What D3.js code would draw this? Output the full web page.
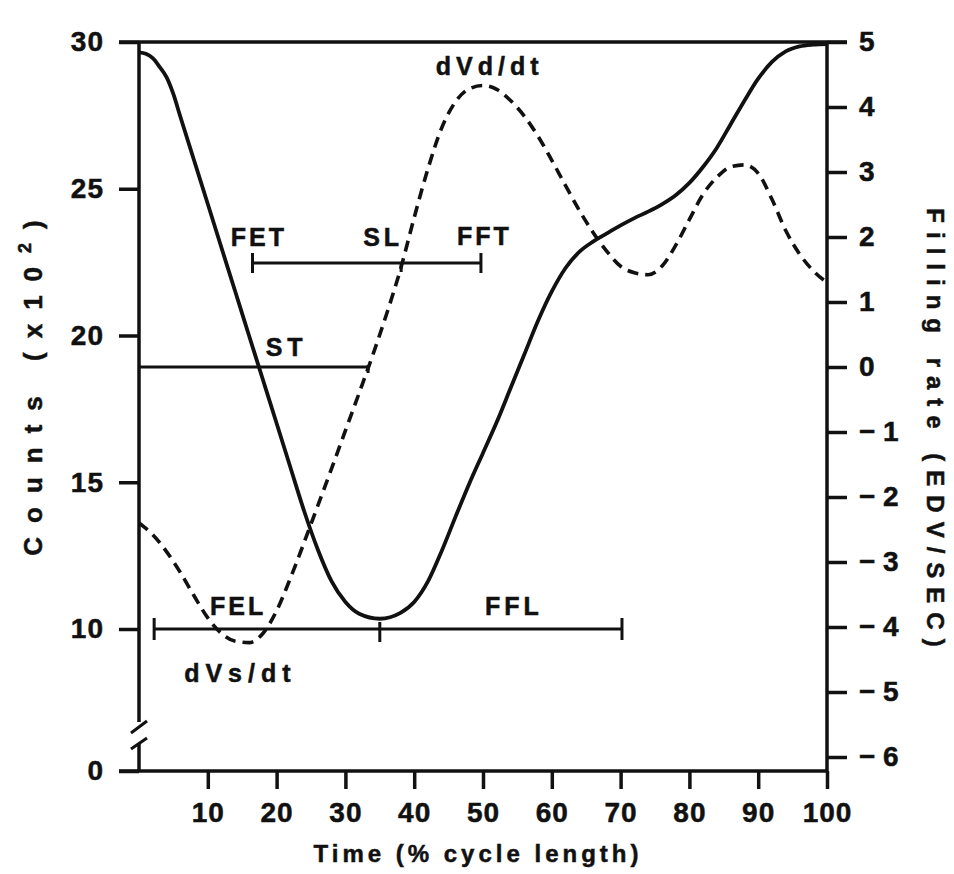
<!DOCTYPE html>
<html><head><meta charset="utf-8">
<script src="https://cdn.jsdelivr.net/npm/d3@7"></script>
<style>
html,body{margin:0;padding:0;background:#fff;}
svg{display:block;}
text{font-family:"Liberation Sans",Arial,Helvetica,sans-serif;font-weight:bold;fill:#111;stroke:#111;stroke-width:0.5px;}
</style></head><body>
<svg id="chart" width="954" height="874"></svg>
<script>
// ---- data ----
const countsTime   = [0, 1, 2, 3, 4, 5, 6, 8, 10, 12, 14, 16, 18, 20, 22, 24, 26, 28, 30, 32, 35, 38, 40, 42, 44, 46, 48, 50, 52, 54, 56, 58, 60, 62, 64, 66, 68, 70, 72, 74, 76, 78, 80, 82, 84, 86, 88, 90, 92, 94, 96, 98, 100];
const countsValues = [29.65, 29.6, 29.45, 29.15, 28.8, 28.22, 27.46, 25.97, 24.48, 22.98, 21.49, 19.99, 18.5, 17.01, 15.51, 14.02, 12.7, 11.62, 10.92, 10.52, 10.35, 10.55, 10.92, 11.62, 12.66, 13.82, 14.95, 16.0, 17.05, 18.2, 19.35, 20.5, 21.5, 22.3, 22.85, 23.2, 23.48, 23.75, 24.0, 24.22, 24.47, 24.78, 25.2, 25.75, 26.4, 27.2, 28.0, 28.75, 29.32, 29.68, 29.85, 29.91, 29.93];

const rateTime   = [0, 2, 4, 6, 8, 10, 12, 14, 16, 18, 20, 22, 24, 26, 28, 30, 32, 34, 36, 38, 40, 42, 44, 46, 48, 50, 52, 54, 56, 58, 60, 62, 64, 66, 68, 70, 72, 74, 76, 78, 80, 82, 84, 86, 88, 90, 92, 94, 96, 98, 100];
const rateValues = [-2.40, -2.58, -2.84, -3.16, -3.52, -3.86, -4.10, -4.22, -4.24, -4.10, -3.75, -3.25, -2.70, -2.13, -1.56, -0.98, -0.40, 0.19, 0.82, 1.50, 2.30, 3.05, 3.68, 4.08, 4.28, 4.33, 4.27, 4.10, 3.86, 3.55, 3.18, 2.79, 2.41, 2.07, 1.78, 1.55, 1.45, 1.42, 1.55, 1.87, 2.27, 2.66, 2.92, 3.08, 3.11, 2.98, 2.58, 2.10, 1.74, 1.48, 1.30];

const xTicks     = [10, 20, 30, 40, 50, 60, 70, 80, 90, 100];
const leftTicks  = [0, 10, 15, 20, 25, 30];
const rightTicks = [5, 4, 3, 2, 1, 0, -1, -2, -3, -4, -5, -6];

// interval brackets (time %, and level)
const fetTimes = [16.5, 38.1, 49.7]; const fetRate = 1.6;     // FET | SL | FFT
const stTimes  = [0, 33.3];          const stRate  = 0;       // ST
const felTimes = [2.2, 35.0, 70.2];  const felCount = 10;     // FEL | FFL

// ---- scales ----
const svg = d3.select("#chart");
const x  = d3.scaleLinear().domain([0, 100]).range([139, 827]);
const yL = d3.scaleLinear().domain([0, 10, 30]).range([771, 629, 42]);   // broken axis
const yR = d3.scaleLinear().domain([-6, 5]).range([757, 42]);

const ink = "#111";
const g = svg.append("g");

function seg(x1, y1, x2, y2, w) {
  g.append("line").attr("x1", x1).attr("y1", y1).attr("x2", x2).attr("y2", y2)
    .attr("stroke", ink).attr("stroke-width", w || 3.5);
}

// ---- frame ----
const ax0 = x(0), ax1 = x(100), yTop = yL(30), yBot = yL(0);
seg(ax0 - 20, yTop, ax1 + 20, yTop);          // top line (30 & 5 ticks)
seg(ax1, yTop, ax1, yBot);                     // right axis
seg(ax0 - 20, yBot, ax1, yBot);                // bottom axis
// left axis with break
seg(ax0, yTop, ax0, yBot - 49);
seg(ax0, yBot - 27, ax0, yBot);
seg(ax0 - 8, yBot - 38, ax0 + 8, yBot - 50, 3);
seg(ax0 - 8, yBot - 22, ax0 + 8, yBot - 33, 3);

// ---- axes (ticks + labels) ----
function styleAxis(sel) {
  sel.select(".domain").remove();
  sel.selectAll(".tick line").attr("stroke", ink).attr("stroke-width", 3.5);
  sel.selectAll(".tick text").attr("fill", ink).style("font-size", "28px").style("letter-spacing", "1px");
  sel.attr("font-size", null).attr("font-family", null);
}
svg.append("g").attr("transform", `translate(0,${yBot})`)
  .call(d3.axisBottom(x).tickValues(xTicks).tickSize(18).tickPadding(13)).call(styleAxis);
svg.append("g").attr("transform", `translate(${ax0},0)`)
  .call(d3.axisLeft(yL).tickValues(leftTicks).tickSize(20).tickPadding(15)).call(styleAxis);
svg.append("g").attr("transform", `translate(${ax1},0)`)
  .call(d3.axisRight(yR).tickValues(rightTicks).tickSize(20).tickPadding(12)
    .tickFormat(d => d < 0 ? "\u2212\u2009" + (-d) : String(d))).call(styleAxis);

// ---- curves ----
const countsData = countsTime.map((t, i) => [t, countsValues[i]]);
const rateData = rateTime.map((t, i) => [t, rateValues[i]]);
const curve = d3.curveMonotoneX;
g.append("path").datum(countsData)
  .attr("d", d3.line().x(d => x(d[0])).y(d => yL(d[1])).curve(curve))
  .attr("fill", "none").attr("stroke", ink).attr("stroke-width", 3.8);
g.append("path").datum(rateData)
  .attr("d", d3.line().x(d => x(d[0])).y(d => yR(d[1])).curve(curve))
  .attr("fill", "none").attr("stroke", ink).attr("stroke-width", 3.6)
  .attr("stroke-dasharray", "11,7");

// ---- interval brackets ----
const yF = yR(fetRate);
seg(x(fetTimes[0]), yF, x(fetTimes[2]), yF, 3);
seg(x(fetTimes[0]), yF - 10, x(fetTimes[0]), yF + 10, 3);
seg(x(fetTimes[2]), yF - 10, x(fetTimes[2]), yF + 10, 3);
seg(x(fetTimes[1]), yF, x(fetTimes[1]), yF + 9, 3);

const yS = yR(stRate);
seg(x(stTimes[0]), yS, x(stTimes[1]), yS, 3);
seg(x(stTimes[1]), yS - 2, x(stTimes[1]), yS + 6, 3);

const yE = yL(felCount);
seg(x(felTimes[0]), yE, x(felTimes[2]), yE, 3);
seg(x(felTimes[0]), yE - 11, x(felTimes[0]), yE + 11, 3);
seg(x(felTimes[2]), yE - 11, x(felTimes[2]), yE + 11, 3);
seg(x(felTimes[1]), yE - 7, x(felTimes[1]), yE + 13, 3);

// ---- annotation labels ----
function label(txt, t, yPix, sp) {
  g.append("text").attr("x", x(t) + (sp || 4) / 2).attr("y", yPix)
    .attr("text-anchor", "middle").style("font-size", "25px")
    .style("letter-spacing", (sp || 4) + "px").text(txt);
}
label("dVd/dt", 50.6, yR(4.32) - 11, 5);
label("FET", 17.2, yF - 17, 3);
label("SL", 35.2, yF - 17, 4);
label("FFT", 50.0, yF - 18, 3);
label("ST", 21.1, yS - 11, 5);
label("FEL", 14.2, yE - 14, 3);
label("FFL", 54.2, yE - 14, 4);
label("dVs/dt", 14.3, yE + 53, 6);

// ---- axis titles ----
svg.append("text").attr("x", (x(0) + x(100)) / 2 - 5).attr("y", 862)
  .attr("text-anchor", "middle").style("font-size", "24px").style("letter-spacing", "4px")
  .text("Time (% cycle length)");

const lt = svg.append("text").attr("transform", "translate(42,381) rotate(-90)")
  .attr("text-anchor", "middle").style("font-size", "26px").style("letter-spacing", "14px");
lt.append("tspan").text("Counts (x10");
lt.append("tspan").attr("dy", -11).style("font-size", "18px").text("2");
lt.append("tspan").attr("dy", 11).text(")");

svg.append("text").attr("transform", "translate(927,432) rotate(90)")
  .attr("text-anchor", "middle").style("font-size", "24px").style("letter-spacing", "9px")
  .text("Filling rate (EDV/SEC)");
</script>
</body></html>
